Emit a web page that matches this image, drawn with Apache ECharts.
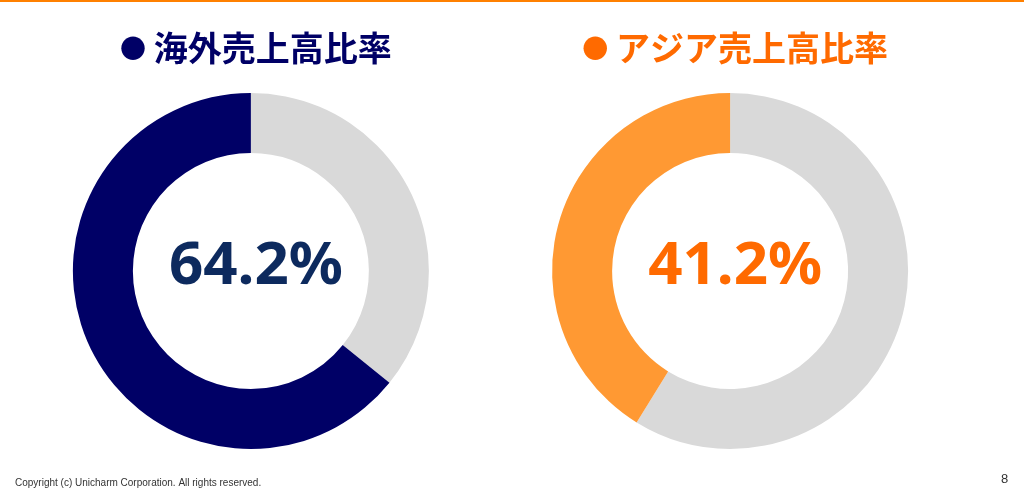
<!DOCTYPE html>
<html>
<head>
<meta charset="utf-8">
<script src="https://cdn.jsdelivr.net/npm/echarts@6/dist/echarts.min.js"></script>
<style>
html, body { margin: 0; padding: 0; background: #fff; }
#chart { width: 1024px; height: 491px; }
</style>
</head>
<body>
<div id="chart"></div>
<script>
// chart data
var titles = ['海外売上高比率', 'アジア売上高比率'];
var ratios = [64.2, 41.2];
var ringColors = ['#000066', '#ff9933'];
var textColors = ['#0d2a5e', '#ff6a00'];
var centersX = ['24.5%', '71.3%'];

var myChart = echarts.init(document.getElementById('chart'));

var series = [];
var titleList = [];
for (var i = 0; i < ratios.length; i++) {
    series.push({
        type: 'pie',
        radius: [118, 178],
        center: [centersX[i], 271],
        startAngle: 90,
        clockwise: true,
        silent: true,
        label: { show: false },
        labelLine: { show: false },
        data: [
            { value: +(100 - ratios[i]).toFixed(1), itemStyle: { color: '#d9d9d9' } },
            { value: ratios[i], itemStyle: { color: ringColors[i] } }
        ]
    });
    titleList.push({
        text: ratios[i].toFixed(1) + '%',
        left: centersX[i],
        top: 232,
        textAlign: 'center',
        textStyle: { color: textColors[i], fontSize: 60, fontWeight: 'bold', fontFamily: 'Noto Sans' }
    });
    titleList.push({
        text: '{dot|●} ' + titles[i],
        left: centersX[i],
        top: 26,
        textAlign: 'center',
        textStyle: {
            color: textColors[i] === '#0d2a5e' ? '#000066' : '#ff6a00',
            fontSize: 34, fontWeight: 'bold', fontFamily: 'Noto Sans CJK JP',
            rich: { dot: { fontSize: 26, color: i === 0 ? '#000066' : '#ff6a00' } }
        }
    });
}
titleList.push({
    text: 'Copyright (c) Unicharm Corporation. All rights reserved.',
    left: 10, top: 473,
    textStyle: { color: '#333', fontSize: 10, fontWeight: 'normal', fontFamily: 'Liberation Sans' }
});
titleList.push({
    text: '8',
    left: 996, top: 468,
    textStyle: { color: '#333', fontSize: 13, fontWeight: 'normal', fontFamily: 'Liberation Sans' }
});

var option = {
    animation: false,
    title: titleList,
    graphic: [{
        type: 'rect',
        shape: { x: 0, y: 0, width: 1024, height: 2 },
        style: { fill: '#ff8000' }
    }],
    series: series
};
myChart.setOption(option);
</script>
</body>
</html>
